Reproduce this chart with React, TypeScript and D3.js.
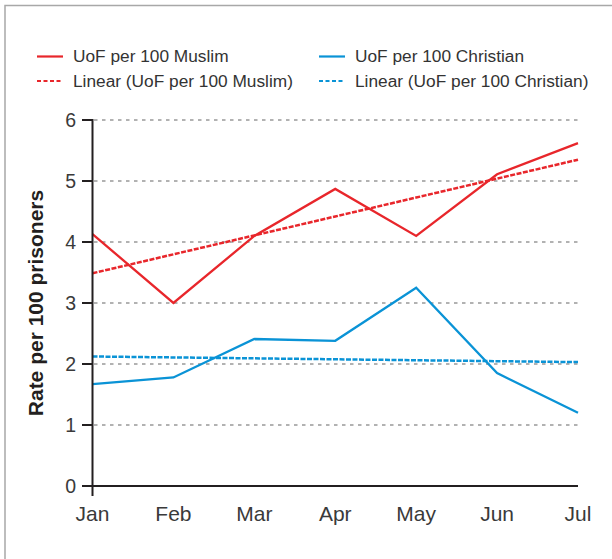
import React from "react";
import * as d3 from "d3";

const months = ["Jan", "Feb", "Mar", "Apr", "May", "Jun", "Jul"];
const muslim = [4.13, 3.0, 4.1, 4.87, 4.1, 5.11, 5.62];
const christian = [1.67, 1.78, 2.41, 2.38, 3.25, 1.85, 1.2];
const yTicks = [0, 1, 2, 3, 4, 5, 6];
const legendLabels = [
  "UoF per 100 Muslim",
  "UoF per 100 Christian",
  "Linear (UoF per 100 Muslim)",
  "Linear (UoF per 100 Christian)",
];

const RED = "#e8262b";
const BLUE = "#0a93d6";
const FONT = "'Liberation Sans', Arial, Helvetica, sans-serif";

function linReg(vals: number[]) {
  const n = vals.length;
  const mx = (n - 1) / 2;
  const my = d3.mean(vals) as number;
  let num = 0, den = 0;
  vals.forEach((v, i) => { num += (i - mx) * (v - my); den += (i - mx) ** 2; });
  const slope = num / den;
  return vals.map((_, i) => my + slope * (i - mx));
}

export default function App() {
  const W = 612, H = 559;
  const x = d3.scalePoint<string>().domain(months).range([92.5, 578]);
  const y = d3.scaleLinear().domain([0, 6]).range([486, 120]);
  const line = d3.line<number>().x((_, i) => x(months[i]) as number).y((d) => y(d));
  const mTrend = linReg(muslim);
  const cTrend = linReg(christian);

  const legend = [
    { label: legendLabels[0], color: RED, dash: undefined, lx: 37, ly: 56.5 },
    { label: legendLabels[1], color: BLUE, dash: undefined, lx: 319, ly: 56.5 },
    { label: legendLabels[2], color: RED, dash: "4,2.5", lx: 37, ly: 81 },
    { label: legendLabels[3], color: BLUE, dash: "4,2.5", lx: 319, ly: 81 },
  ];

  return (
    <svg width={W} height={H} style={{ position: "absolute", left: 0, top: 0 }} fontFamily={FONT}>
      <rect x={0} y={0} width={W} height={H} fill="#fff" />
      <path d={`M5,${H} V5.5 H${W}`} fill="none" stroke="#a8a8a8" strokeWidth={1.5} />

      {legend.map((l, i) => (
        <g key={i}>
          <line x1={l.lx} x2={l.lx + 26} y1={l.ly} y2={l.ly} stroke={l.color} strokeWidth={2.2} strokeDasharray={l.dash} />
          <text x={l.lx + 36} y={l.ly + 5.5} fontSize={17.3} fill="#333">{l.label}</text>
        </g>
      ))}

      {yTicks.filter((t) => t > 0).map((t) => (
        <line key={t} x1={94} x2={578} y1={y(t)} y2={y(t)} stroke="#999" strokeWidth={1.5} strokeDasharray="3.5,4.5" />
      ))}

      <path d={line(mTrend) as string} fill="none" stroke={RED} strokeWidth={2.5} strokeDasharray="5,1.5" />
      <path d={line(cTrend) as string} fill="none" stroke={BLUE} strokeWidth={2.5} strokeDasharray="5,1.5" />
      <path d={line(muslim) as string} fill="none" stroke={RED} strokeWidth={2.3} />
      <path d={line(christian) as string} fill="none" stroke={BLUE} strokeWidth={2.3} />

      <line x1={92.5} x2={92.5} y1={y(6) - 1} y2={496} stroke="#231f20" strokeWidth={2} />
      <line x1={92.5} x2={578} y1={y(0)} y2={y(0)} stroke="#231f20" strokeWidth={2} />
      {yTicks.map((t) => (
        <g key={t}>
          <line x1={82} x2={92.5} y1={y(t)} y2={y(t)} stroke="#231f20" strokeWidth={2} />
          <text x={76} y={y(t) + 6.5} textAnchor="end" fontSize={19.5} fill="#3a3a3a">{t}</text>
        </g>
      ))}
      {months.map((m) => (
        <text key={m} x={x(m) as number} y={521} textAnchor="middle" fontSize={21} fill="#3a3a3a">{m}</text>
      ))}

      <text transform="translate(43,303) rotate(-90)" textAnchor="middle" fontSize={21} fontWeight="bold" fill="#231f20">
        Rate per 100 prisoners
      </text>
    </svg>
  );
}
